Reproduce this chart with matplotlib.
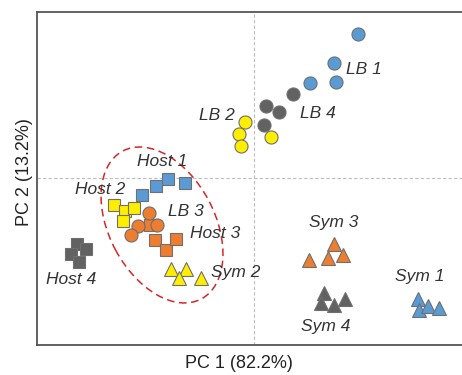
import matplotlib
matplotlib.use("Agg")
import matplotlib.pyplot as plt
from matplotlib.patches import Ellipse

plt.rcParams['font.family'] = ['Liberation Sans', 'DejaVu Sans']

# PC scores (x = PC1, y = PC2)
host1_x = [-2.25, -1.97, -1.73, -1.38]
host1_y = [-0.34, -0.16, -0.02, -0.09]
host2_x = [-2.80, -2.58, -2.41, -2.63]
host2_y = [-0.54, -0.65, -0.59, -0.85]
host3_x = [-2.09, -1.99, -1.76, -1.56]
host3_y = [-0.94, -1.24, -1.44, -1.22]
host4_x = [-3.55, -3.37, -3.66, -3.51]
host4_y = [-1.32, -1.42, -1.51, -1.67]

lb1_x = [2.07, 1.60, 1.64, 1.11]
lb1_y = [2.88, 2.31, 1.93, 1.91]
lb2_x = [-0.18, -0.30, -0.27, 0.34]
lb2_y = [1.13, 0.89, 0.64, 0.83]
lb3_x = [-2.10, -2.33, -2.47, -1.95]
lb3_y = [-0.69, -0.95, -1.14, -0.94]
lb4_x = [0.77, 0.24, 0.49, 0.20]
lb4_y = [1.69, 1.45, 1.33, 1.07]

sym1_x = [3.27, 3.29, 3.47, 3.70]
sym1_y = [-2.41, -2.64, -2.55, -2.59]
sym2_x = [-1.67, -1.36, -1.51, -1.06]
sym2_y = [-1.81, -1.81, -1.99, -1.99]
sym3_x = [1.59, 1.09, 1.47, 1.77]
sym3_y = [-1.32, -1.64, -1.59, -1.54]
sym4_x = [1.39, 1.33, 1.59, 1.82]
sym4_y = [-2.29, -2.49, -2.54, -2.42]

label_names = ["LB 1", "LB 4", "LB 2", "Host 1", "Host 2", "LB 3",
               "Host 3", "Sym 2", "Host 4", "Sym 3", "Sym 4", "Sym 1"]
label_x = [2.20, 1.28, -0.74, -1.84, -3.08, -1.36, -0.78, -0.36, -3.66, 1.60, 1.44, 3.32]
label_y = [2.16, 1.30, 1.24, 0.32, -0.24, -0.66, -1.12, -1.90, -2.02, -0.90, -2.98, -1.98]

BLUE = "#5b9bd5"
ORANGE = "#ed7d31"
YELLOW = "#ffee00"
GRAY = "#626262"
EDGE = "#6f6f6f"

fig = plt.figure(figsize=(4.62, 3.75), dpi=100)
ax = fig.add_axes([0.0801, 0.08, 0.9199, 0.888])

ax.axvline(0, color="#bdbdbd", ls=(0, (3, 2)), lw=0.8, zorder=1)
ax.axhline(0, color="#bdbdbd", ls=(0, (3, 2)), lw=0.8, zorder=1)

groups = [
    (host1_x, host1_y, "s", BLUE, 8.2),
    (host2_x, host2_y, "s", YELLOW, 8.2),
    (host3_x, host3_y, "s", ORANGE, 8.2),
    (host4_x, host4_y, "s", GRAY, 8.2),
    (lb1_x, lb1_y, "o", BLUE, 9.4),
    (lb2_x, lb2_y, "o", YELLOW, 9.4),
    (lb3_x, lb3_y, "o", ORANGE, 9.4),
    (lb4_x, lb4_y, "o", GRAY, 9.4),
    (sym1_x, sym1_y, "^", BLUE, 9.5),
    (sym2_x, sym2_y, "^", YELLOW, 9.5),
    (sym3_x, sym3_y, "^", ORANGE, 9.5),
    (sym4_x, sym4_y, "^", GRAY, 9.5),
]
for gx, gy, mk, col, ms in groups:
    ax.plot(gx, gy, ls="none", marker=mk, ms=ms, mfc=col, mec=EDGE,
            mew=0.8, zorder=3)

for name, tx, ty in zip(label_names, label_x, label_y):
    ax.text(tx, ty, name, fontsize=12.5, style="italic", color="#333333",
            ha="center", va="center", zorder=4)

ell = Ellipse((-1.84, -0.94), width=3.35, height=2.11, angle=-62,
              fill=False, ec="#d62728", ls=(0, (5, 3)), lw=1.1, zorder=2)
ax.add_patch(ell)

ax.set_xlim(-4.34, 4.16)
ax.set_ylim(-3.34, 3.32)
ax.set_xticks([])
ax.set_yticks([])
for side in ["left", "top", "bottom"]:
    ax.spines[side].set_color("#555555")
    ax.spines[side].set_linewidth(1.3)
ax.spines["right"].set_visible(False)

fig.text(0.517, 0.032, "PC 1 (82.2%)", fontsize=13, color="#222222",
         ha="center", va="center")
fig.text(0.054, 0.541, "PC 2 (13.2%)", fontsize=13, color="#222222",
         ha="center", va="center", rotation=90)

fig.savefig("out.png", dpi=100)
